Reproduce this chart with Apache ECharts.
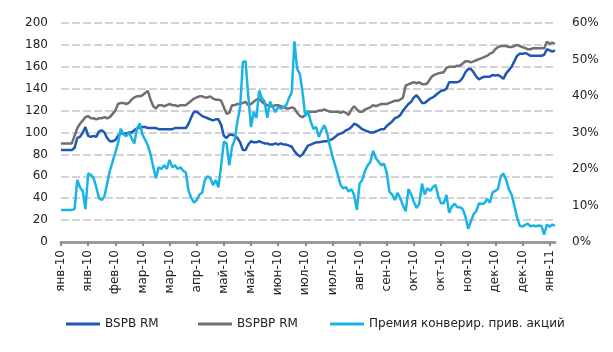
<!DOCTYPE html>
<html>
<head>
<meta charset="utf-8">
<script src="https://cdn.jsdelivr.net/npm/echarts@6/dist/echarts.min.js"></script>
<style>
	html, body { margin: 0; padding: 0; background: #fff; }
	#chart { width: 613px; height: 352px; }
</style>
</head>
<body>
<div id="chart"></div>
<script>
// подписи оси X (каждая 10-я точка)
var tickLabels = [ 'янв-10', 'янв-10', 'фев-10', 'мар-10', 'мар-10', 'апр-10', 'май-10', 'май-10', 'июн-10', 'июл-10',
	'июл-10', 'авг-10', 'сен-10', 'окт-10', 'окт-10', 'ноя-10', 'дек-10', 'дек-10', 'янв-11' ];

var bspb = [ 84, 84, 84, 84, 84, 86, 95, 96, 100, 105,
	97, 96, 97, 96, 101, 102, 100, 95, 92, 92,
	93, 97, 99, 99, 99, 100, 100, 102, 104, 104,
	105, 105, 104, 104, 104, 104, 103, 103, 103, 103,
	103, 103, 104, 104, 104, 104, 104, 108, 114, 119,
	119, 117, 115, 114, 113, 112, 111, 112, 112, 107,
	97, 95, 98, 98, 97, 95, 91, 84, 84, 89,
	92, 91, 91, 92, 91, 90, 90, 89, 89, 90,
	89, 90, 89, 89, 88, 87, 83, 80, 78, 80,
	84, 88, 89, 90, 91, 91, 91.5, 92, 92, 93,
	94, 96, 98, 99, 100, 102, 103, 105, 108, 107,
	105, 103, 102, 101, 100, 100, 101, 102, 103, 103,
	106, 108, 110, 113, 114, 116, 120, 123, 126, 128,
	132, 134, 131, 127, 127, 129, 131, 132, 134, 136,
	138, 138.5, 140, 146, 146, 146, 146, 147, 150, 155,
	158, 158, 155, 151, 148.5, 150, 151, 151, 151, 152.5,
	152, 152.5, 151, 149, 154, 157, 160, 165, 170, 172,
	172, 172.5, 171.5, 170, 170, 170, 170, 170, 171, 176,
	175, 174, 175 ];

var bspbp = [ 90, 90, 90, 90, 90, 97, 104, 108, 111, 114,
	115, 113, 113, 112, 113, 113, 114, 113, 114, 117,
	120, 126, 127, 127, 126, 127, 130, 132, 133, 133,
	134, 136, 138, 130, 124, 122, 125, 125, 124, 125,
	126, 125, 125, 124, 125, 125, 125, 127, 129, 131,
	132, 133, 133, 132, 132, 133, 131, 130, 130, 129,
	123, 117, 118, 125, 125, 126, 126, 127, 128, 125,
	126, 128, 130, 131, 128, 126, 125, 124, 124, 125,
	125, 124, 123, 122, 122, 123, 122, 118, 115, 114,
	116, 119, 119, 119, 119, 120, 120, 121, 120, 119,
	119, 119, 119, 118, 119, 118, 116, 121, 124, 121,
	119, 119, 121, 122, 123, 125, 124, 125, 126, 126,
	126, 127, 128, 129, 129, 130, 132, 143, 144, 145,
	146, 145, 146, 144, 144, 145, 149, 152, 153, 154,
	154.5, 155, 159, 160, 160, 160, 161, 161, 163, 165,
	165, 164, 165, 166, 167, 168, 169, 170, 172, 173,
	176, 178, 179, 179, 179, 178, 178, 179, 180, 179,
	178, 177, 176, 176, 177, 177, 177, 177, 177, 183,
	181, 182, 181 ];

// премия, %
var premium = [ 8.8, 8.8, 8.8, 8.8, 8.8, 9, 17, 15, 14, 9,
	18.8, 18.4, 17.5, 15, 12, 11.5, 12.5, 16, 19.5, 22,
	24.5, 27, 31, 29.5, 29, 30, 28.5, 27, 31, 32.5,
	29.5, 28, 26.5, 24, 20.5, 17.5, 20.5, 20, 21, 20,
	22.5, 20.5, 21, 20, 20.5, 19.5, 19, 14, 12, 10.8,
	11.5, 13, 13.5, 17, 18, 17.5, 15.6, 17, 15, 21,
	27.5, 27, 21, 26, 28, 33, 37, 49.3, 49.5, 40,
	31.5, 35.6, 34, 41.5, 39.5, 38.5, 34, 38.5, 37, 35.6,
	37, 36.5, 37, 37.5, 39.5, 41, 55, 47.5, 46, 41,
	34.5, 36, 33, 31, 31.5, 28.8, 30.6, 32, 30, 26.5,
	23.5, 21, 18.4, 15.6, 14.7, 15, 13.8, 14.5, 12.9, 8.8,
	16, 17, 19.5, 21, 22, 25, 23, 22, 21, 21.5,
	19, 13.8, 13, 11.5, 13.5, 12, 10, 8.4, 14.5, 13,
	11, 9.3, 10.5, 16, 13, 14.7, 14, 15, 15.6, 12.5,
	10.6, 10.6, 12.9, 8, 9.7, 10.5, 9.5, 9.5, 9, 7,
	3.6, 5.6, 7.6, 8.5, 10.6, 10.4, 10.6, 11.8, 10.8, 13.6,
	14, 14.5, 18, 18.8, 17, 14.5, 13, 10, 6.8, 4.5,
	4.2, 4.7, 5, 4.3, 4.5, 4.3, 4.5, 4.4, 2, 4.8,
	4.2, 4.8, 4.4 ];

var days = [];
for (var i = 0; i < bspb.length; i++) {
	days.push(i);
}

var font = 'DejaVu Sans';

function showChart(divId) {
	var chart = echarts.init(document.getElementById(divId));
	var option = genOption();
	chart.setOption(option, true);
}

function legendItem(name, left) {
	return {
		data : [ name ],
		left : left,
		top : 313,
		icon : 'rect',
		itemWidth : 34,
		itemHeight : 3,
		itemGap : 0,
		textStyle : {
			color : '#222',
			fontFamily : font,
			fontSize : 12
		}
	};
}

function genOption() {
	var option = {
		animation : false,
		color : [ '#1f58b0', '#707070', '#1ab3e6' ],
		grid : {
			left : 61,
			right : 58,
			top : 23,
			bottom : 110
		},
		legend : [ legendItem('BSPB RM', 61), legendItem('BSPBP RM', 193), legendItem('Премия конверир. прив. акций', 325) ],
		xAxis : {
			type : 'category',
			data : days,
			boundaryGap : false,
			axisLine : {
				lineStyle : {
					color : '#9a9a9a',
					width : 3
				}
			},
			axisTick : {
				interval : 9,
				length : 4,
				lineStyle : {
					color : '#8a8a8a',
					width : 2
				}
			},
			axisLabel : {
				interval : 9,
				rotate : 90,
				margin : 8,
				color : '#222',
				fontFamily : font,
				fontSize : 12,
				formatter : function(value, idx) {
					return tickLabels[idx / 10] || '';
				}
			}
		},
		yAxis : [ {
			type : 'value',
			min : 0,
			max : 200,
			interval : 20,
			axisLine : { show : false },
			axisTick : { show : false },
			axisLabel : {
				margin : 13,
				color : '#222',
				fontFamily : font,
				fontSize : 12
			},
			splitLine : {
				lineStyle : {
					color : '#d2d3d9',
					width : 2,
					type : [ 8, 3 ]
				}
			}
		}, {
			type : 'value',
			min : 0,
			max : 60,
			interval : 10,
			axisLine : { show : false },
			axisTick : { show : false },
			splitLine : { show : false },
			axisLabel : {
				margin : 17,
				color : '#222',
				fontFamily : font,
				fontSize : 12,
				formatter : '{value}%'
			}
		} ],
		series : [ {
			name : 'BSPB RM',
			type : 'line',
			showSymbol : false,
			lineStyle : { width : 2.5 },
			data : bspb
		}, {
			name : 'BSPBP RM',
			type : 'line',
			showSymbol : false,
			lineStyle : { width : 2.5 },
			data : bspbp
		}, {
			name : 'Премия конверир. прив. акций',
			type : 'line',
			yAxisIndex : 1,
			showSymbol : false,
			lineStyle : { width : 2.5 },
			data : premium
		} ]
	};
	return option;
}

showChart('chart');
</script>
</body>
</html>
